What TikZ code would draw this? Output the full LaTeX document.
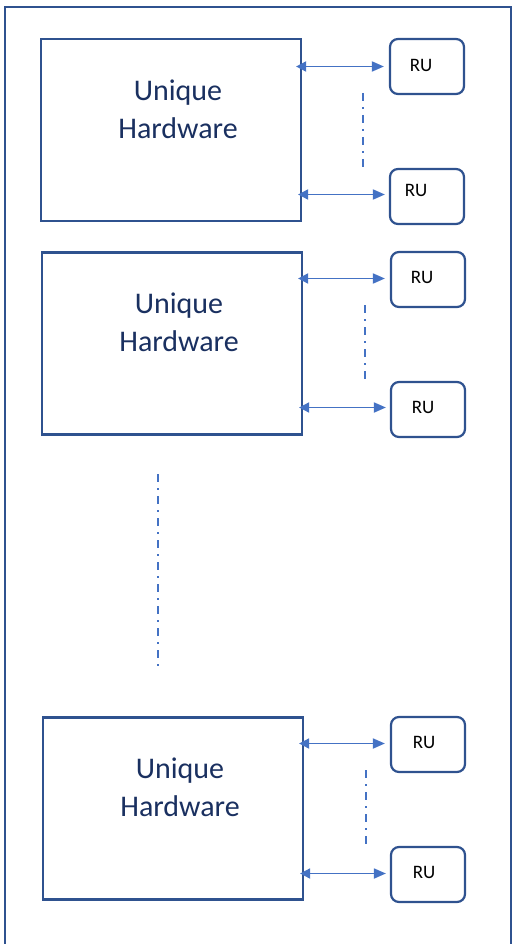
\documentclass[tikz,border=0pt]{standalone}
\usepackage{fontspec}
\setmainfont{Carlito}
\usetikzlibrary{arrows.meta}
\definecolor{frameblue}{HTML}{2F528F}
\definecolor{linkblue}{HTML}{4472C4}
\definecolor{textnavy}{HTML}{1A3060}
\tikzset{
  hwbox/.style={draw=frameblue, line width=2.2pt, minimum width=260pt, minimum height=182pt, inner sep=0pt},
  rubox/.style={draw=frameblue, line width=2.2pt, rounded corners=8pt, minimum width=74pt, minimum height=55pt, inner sep=0pt},
  hwtext/.style={text=textnavy, font=\fontsize{30pt}{38pt}\selectfont, align=center, inner sep=0pt},
  rutext/.style={text=black, font=\fontsize{19pt}{22pt}\selectfont, inner sep=0pt},
  link/.style={draw=linkblue, line width=1.8pt, {Triangle[length=10pt,width=10pt]}-{Triangle[length=12pt,width=10pt]}},
  dashdot/.style={draw=linkblue, line width=1.6pt, dash pattern=on 8pt off 6pt on 2pt off 6pt}
}
\begin{document}
\begin{tikzpicture}[x=1pt, y=-1pt]
  \useasboundingbox (0,0) rectangle (513,944);
  % outer frame, running off the lower edge
  \begin{scope}
    \clip (0,0) rectangle (513,944);
    \draw[draw=frameblue, line width=2.2pt] (5,960) -- (5,7) -- (511,7) -- (511,960);
  \end{scope}

  % hardware units
  \node[hwbox] (hw1) at (171,130) {};
  \node[hwbox] (hw2) at (172,343.5) {};
  \node[hwbox] (hw3) at (173,808.5) {};
  \node[hwtext] (t1) at (178,109) {Unique\\Hardware};
  \node[hwtext] (t2) at (179,322) {Unique\\Hardware};
  \node[hwtext] (t3) at (180,787) {Unique\\Hardware};

  % radio units
  \node[rubox] (ru1) at (427,66.5) {};
  \node[rubox] (ru2) at (427,196.5) {};
  \node[rubox] (ru3) at (428,279.5) {};
  \node[rubox] (ru4) at (428,409.5) {};
  \node[rubox] (ru5) at (428,744.5) {};
  \node[rubox] (ru6) at (428,874.5) {};
  \node[rutext] (r1) at (421,65) {RU};
  \node[rutext] (r2) at (416,190) {RU};
  \node[rutext] (r3) at (422,277) {RU};
  \node[rutext] (r4) at (423,407) {RU};
  \node[rutext] (r5) at (424,742) {RU};
  \node[rutext] (r6) at (424,872) {RU};

  % links
  \draw[link] ([xshift=-6pt]hw1.east |- ru1.west) -- ([xshift=-5pt]ru1.west);
  \draw[link] ([xshift=-4pt]hw1.east |- ru2.west) ++(0,-2) -- ([xshift=-4pt,yshift=2pt]ru2.west);
  \draw[link] ([xshift=-5pt]hw2.east |- ru3.west) ++(0,-1) -- ([xshift=-5pt,yshift=1pt]ru3.west);
  \draw[link] ([xshift=-4pt]hw2.east |- ru4.west) ++(0,-2) -- ([xshift=-4pt,yshift=2pt]ru4.west);
  \draw[link] ([xshift=-5pt]hw3.east |- ru5.west) ++(0,-1) -- ([xshift=-5pt,yshift=1pt]ru5.west);
  \draw[link] ([xshift=-4pt]hw3.east |- ru6.west) ++(0,-1) -- ([xshift=-4pt,yshift=1pt]ru6.west);

  % continuation marks
  \coordinate (d1a) at (363,93);  \coordinate (d1b) at (363,167);
  \coordinate (d2a) at (365,305); \coordinate (d2b) at (365,380);
  \coordinate (d3a) at (366,770); \coordinate (d3b) at (366,845);
  \coordinate (dma) at (158,474); \coordinate (dmb) at (158,667);
  \draw[dashdot] (d1a) -- (d1b);
  \draw[dashdot] (d2a) -- (d2b);
  \draw[dashdot] (d3a) -- (d3b);
  \draw[dashdot] (dma) -- (dmb);
\end{tikzpicture}
\end{document}
